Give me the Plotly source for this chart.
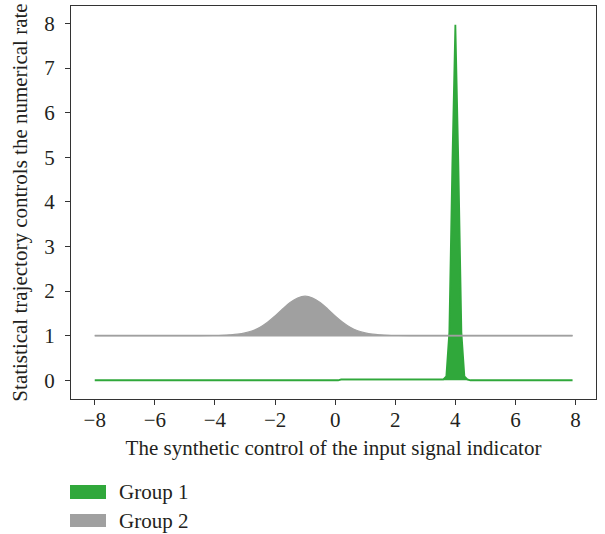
import plotly.graph_objects as go

# ---- data ----
group1_name = "Group 1"
group1_x = [-8.0, 0.1, 0.2, 3.6, 3.7, 3.8, 3.9, 4.0, 4.1, 4.2, 4.3, 4.4, 4.5, 7.9]
group1_y = [0.0, 0.0, 0.02, 0.02, 0.09, 1.08, 4.83, 7.97, 4.83, 1.08, 0.09, 0.02, 0.0, 0.0]

group2_name = "Group 2"
group2_x = [-8.0, -4.5, -4.0, -3.75, -3.5, -3.25, -3.0, -2.75, -2.5, -2.25, -2.0,
            -1.75, -1.5, -1.25, -1.0, -0.75, -0.5, -0.25, 0.0, 0.25, 0.5, 0.75,
            1.0, 1.25, 1.5, 1.75, 2.0, 2.5, 7.9]
group2_y = [1.0, 1.001, 1.004, 1.009, 1.018, 1.033, 1.062, 1.110, 1.188, 1.300, 1.442,
            1.598, 1.742, 1.845, 1.885, 1.845, 1.742, 1.598, 1.442, 1.300, 1.188, 1.110,
            1.062, 1.033, 1.018, 1.009, 1.004, 1.001, 1.0]
group2_base = 1.0

x_ticks = [-8, -6, -4, -2, 0, 2, 4, 6, 8]
x_tick_labels = ["\u22128", "\u22126", "\u22124", "\u22122", "0", "2", "4", "6", "8"]
y_ticks = [0, 1, 2, 3, 4, 5, 6, 7, 8]
y_tick_labels = [str(v) for v in y_ticks]

x_title = "The synthetic control of the input signal indicator"
y_title = "Statistical trajectory controls the numerical rate"

GREEN = "#30a83b"
GRAY = "#a0a0a0"
FONT = "Liberation Serif"
FS = 21
TXT = "#231f20"
AX = "#333333"

fig = go.Figure()
fig.add_trace(go.Scatter(
    x=group1_x, y=group1_y, mode="lines", fill="tozeroy",
    line=dict(color=GREEN, width=1.8), fillcolor=GREEN, name=group1_name,
    showlegend=False, hoverinfo="skip"))
fig.add_trace(go.Scatter(
    x=[group2_x[0], group2_x[-1]], y=[group2_base, group2_base], mode="lines",
    line=dict(color=GRAY, width=1.8), showlegend=False, hoverinfo="skip"))
fig.add_trace(go.Scatter(
    x=group2_x, y=group2_y, mode="lines", fill="tonexty",
    line=dict(color=GRAY, width=1.2, shape="spline"), fillcolor=GRAY, name=group2_name,
    showlegend=False, hoverinfo="skip"))

axis_common = dict(
    showline=True, mirror=True, linecolor=AX, linewidth=1.3,
    ticks="outside", ticklen=5, tickcolor=AX, tickwidth=1.2,
    showgrid=False, zeroline=False,
    tickfont=dict(family=FONT, size=FS, color=TXT),
)

fig.update_layout(
    width=605, height=534,
    margin=dict(l=71, r=9, t=6, b=135),
    paper_bgcolor="white", plot_bgcolor="white",
    font=dict(family=FONT, size=FS, color=TXT),
    xaxis=dict(range=[-8.79, 8.68], tickvals=x_ticks, ticktext=x_tick_labels,
               ticklabelstandoff=-3,
               title=dict(text=x_title, font=dict(family=FONT, size=FS, color=TXT), standoff=8),
               **axis_common),
    yaxis=dict(range=[-0.42, 8.39], tickvals=y_ticks, ticktext=y_tick_labels,
               ticklabelstandoff=6,
               title=dict(text=y_title, font=dict(family=FONT, size=FS, color=TXT), standoff=10),
               **axis_common),
    showlegend=False,
)

# manual legend (patches + labels) below the plot
legend_items = [(group1_name, GREEN, 485, 499), (group2_name, GRAY, 514, 527)]
for name, col, y0, y1 in legend_items:
    fig.add_shape(type="rect", xref="paper", yref="paper",
                  x0=(70 - 71) / 525, x1=(106 - 71) / 525,
                  y0=(399 - y1) / 393, y1=(399 - y0) / 393,
                  fillcolor=col, line=dict(width=0))
    fig.add_annotation(xref="paper", yref="paper", x=(117 - 71) / 525,
                       y=(399 - (y0 + y1) / 2) / 393, text=name, showarrow=False,
                       xanchor="left", yanchor="middle",
                       font=dict(family=FONT, size=FS, color=TXT))

fig.write_html("out.html")
